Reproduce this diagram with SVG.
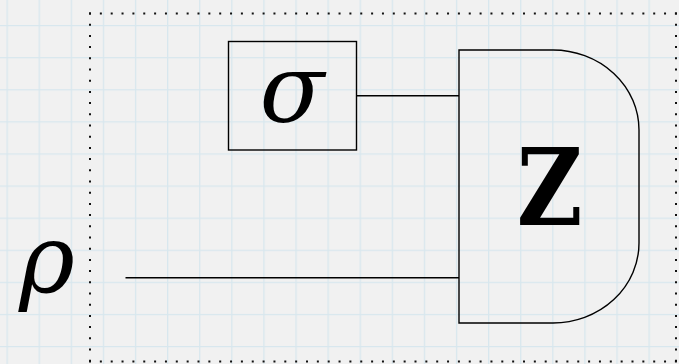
<svg xmlns="http://www.w3.org/2000/svg" width="679" height="364" viewBox="0 0 679 364">
  <defs>
    <pattern id="grid" patternUnits="userSpaceOnUse" x="6.5" y="25" width="32.1" height="32.1">
      <path d="M0,0 V32.1 M0,0 H32.1" fill="none" stroke="#d8e7ee" stroke-width="2.6"/>
    </pattern>
  </defs>
  <style>
    .frame { stroke: #111; stroke-width: 2; fill: none; }
    .box { fill: none; stroke: #000; stroke-width: 1.4; }
    .wire { fill: none; stroke: #000; stroke-width: 1.6; }
    .math { font-family: "DejaVu Serif", "Liberation Serif", serif; font-style: italic; fill: #000; }
    .bold { font-family: "DejaVu Serif", "Liberation Serif", serif; font-weight: bold; fill: #000; }
  </style>
  <rect width="679" height="364" fill="#f1f1f1"/>
  <rect width="679" height="364" fill="url(#grid)"/>

  <g id="frame">
    <line class="frame" x1="89" y1="13.5" x2="679" y2="13.5" stroke-dasharray="2 8.85"/>
    <line class="frame" x1="90" y1="12.5" x2="90" y2="364" stroke-dasharray="2 9.2"/>
    <line class="frame" x1="89" y1="361.5" x2="679" y2="361.5" stroke-dasharray="2 8.85"/>
    <line class="frame" x1="676" y1="12.5" x2="676" y2="364" stroke-dasharray="2 9.2"/>
  </g>

  <g id="rho">
    <text class="math" x="47" y="292" font-size="95" text-anchor="middle">ρ</text>
  </g>

  <g id="sigma">
    <rect class="box" x="228.5" y="41.5" width="128" height="108.5"/>
    <text class="math" x="292" y="122" font-size="95" text-anchor="middle">σ</text>
  </g>

  <g id="measurement-Z">
    <path class="box" d="M459,50 H553 A86,80 0 0 1 639,130 V243 A86,80 0 0 1 553,323 H459 Z"/>
    <text class="bold" transform="translate(549.7,225) scale(0.85,1)" x="0" y="0" font-size="106" text-anchor="middle">Z</text>
  </g>

  <g id="connectors">
    <line class="wire" x1="356.5" y1="95.7" x2="459" y2="95.7"/>
    <line class="wire" x1="125.5" y1="277.7" x2="459" y2="277.7"/>
  </g>
</svg>
